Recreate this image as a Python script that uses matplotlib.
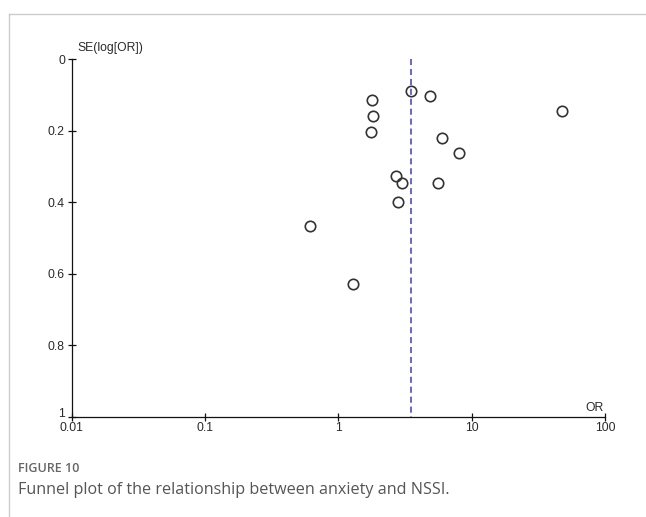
import matplotlib
matplotlib.use("Agg")
import matplotlib.pyplot as plt
import matplotlib.transforms as mtransforms
from matplotlib.lines import Line2D

# study estimates
odds_ratio = [3.49, 4.87, 1.80, 1.82, 1.76, 6.03, 47.3, 8.03,
              2.71, 3.02, 5.56, 2.80, 0.614, 1.28]
se_log_or = [0.089, 0.103, 0.115, 0.158, 0.205, 0.220, 0.146, 0.262,
             0.326, 0.346, 0.346, 0.399, 0.467, 0.628]
pooled_or = 3.5

x_ticks = [0.01, 0.1, 1, 10, 100]
x_ticklabels = ["0.01", "0.1", "1", "10", "100"]
y_ticks = [0, 0.2, 0.4, 0.6, 0.8, 1]
y_ticklabels = ["0", "0.2", "0.4", "0.6", "0.8", "1"]

W, H = 646, 517
fig = plt.figure(figsize=(W / 100, H / 100), dpi=100)

left, right, top, bottom = 71.5, 605, 59, 417
ax = fig.add_axes([left / W, 1 - bottom / H, (right - left) / W, (bottom - top) / H])

ax.plot(odds_ratio, se_log_or, "o", ms=7.5, mfc="none", mec="#333333", mew=1.2,
        zorder=3, clip_on=False)
ax.plot([pooled_or, pooled_or], [0, 1], color="#3b3bd8", lw=1.1,
        dashes=(4, 2.5), zorder=2)

ax.set_xscale("log")
ax.set_xlim(0.01, 100)
ax.set_ylim(1, 0)
ax.set_xticks(x_ticks)
ax.set_xticklabels(x_ticklabels)
ax.set_yticks(y_ticks)
ax.set_yticklabels(y_ticklabels)
ax.minorticks_off()

for side in ["top", "right"]:
    ax.spines[side].set_visible(False)
for side in ["left", "bottom"]:
    ax.spines[side].set_linewidth(0.9)
    ax.spines[side].set_color("#111111")

tick_font = {"family": "Liberation Sans", "size": 8.7}
ax.tick_params(axis="both", direction="inout", length=5.5, width=0.9,
               color="#111111", labelcolor="#2a2a2a", labelsize=8.7)
ax.tick_params(axis="x", pad=1)
ax.tick_params(axis="y", pad=2)
for lab in ax.get_xticklabels() + ax.get_yticklabels():
    lab.set_fontfamily("Liberation Sans")

# the "1" at the corner sits just above the axis line, clear of "0.01"
last = ax.get_yticklabels()[-1]
last.set_transform(last.get_transform() +
                   mtransforms.ScaledTranslation(0, 3 / 72, fig.dpi_scale_trans))

# axis titles sit at the ends of the axes
ax.text(77 / W, 1 - 48 / H, "SE(log[OR])", transform=fig.transFigure,
        ha="left", va="center", color="#2a2a2a", **tick_font)
ax.text(594 / W, 1 - 408 / H, "OR", transform=fig.transFigure,
        ha="center", va="center", color="#2a2a2a", **tick_font)

# light frame around the figure block
fig.add_artist(Line2D([9 / W, 1], [1 - 14 / H, 1 - 14 / H],
                      transform=fig.transFigure, color="#cccccc", lw=1))
fig.add_artist(Line2D([9 / W, 9 / W], [0, 1 - 14 / H],
                      transform=fig.transFigure, color="#cccccc", lw=1))

fig.text(18 / W, 1 - 468 / H, "FIGURE 10", family="Open Sans", weight="semibold",
         size=9, color="#666666", ha="left", va="center")
fig.text(18 / W, 1 - 490 / H,
         "Funnel plot of the relationship between anxiety and NSSI.",
         family="Open Sans", size=11.6, color="#555555", ha="left", va="center")

fig.savefig("out.png", dpi=100)
